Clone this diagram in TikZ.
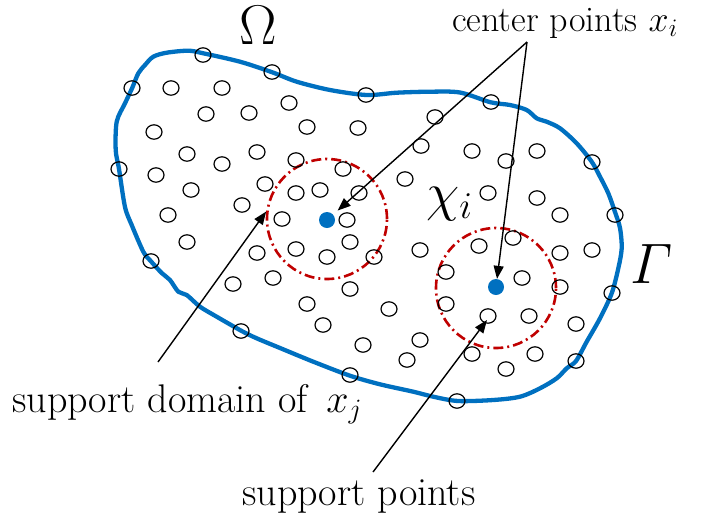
\RequirePackage{fix-cm}
\documentclass[tikz,border=0pt]{standalone}
\usepackage{amsmath}
\usetikzlibrary{arrows.meta}
\definecolor{bblue}{HTML}{0070C0}
\definecolor{dred}{HTML}{C00000}
\begin{document}
\begin{tikzpicture}[x=1pt,y=-1pt,
  bnd/.style={line width=4.3pt, draw=bblue, line join=round},
  ptc/.style={line width=1.2pt, draw=black},
  sdomain/.style={draw=dred, line width=2.6pt, circle, minimum size=120pt, inner sep=0pt,
    dash pattern=on 10pt off 4pt on 2pt off 4pt},
  bdot/.style={circle, fill=bblue, minimum size=16pt, inner sep=0pt},
  arr/.style={line width=1.4pt, -{Triangle[length=13pt,width=10pt]}},
  lbl/.style={font=\fontsize{40}{46}\selectfont, inner sep=0pt}]
\useasboundingbox (0,0) rectangle (703,520);
% boundary
\draw[bnd] plot[smooth cycle, tension=0.5] coordinates {
(116.7,121.7) (125,103.3) (132.3,87.7) (138.3,73.3) (145,65) (153.3,56.7) (166.7,52.7)
(188.3,50.7) (203.3,53.3) (240,61.7) (272.3,72.3) (296.7,81.7) (330,90) (366.7,95)
(396.7,92.7) (430,91.7) (460,92.5) (490.7,102.3) (510,105) (526.7,110) (536.7,118.3)
(546.7,121.7) (560,128.3) (576.7,143.3) (591.7,161.7) (600,176.7) (608.3,193.3) (615,212)
(620,228) (621.7,248.3) (618.3,268.3) (611.7,293.3) (600,318.3) (586.7,341.7) (576,361)
(566.7,368.3) (556.7,378.3) (540,388.3) (520,396.7) (493.3,400) (458,401) (433.3,396.7)
(413.3,391.7) (380,384.3) (350,375.7) (313.3,361.7) (280,348) (256.7,338.3) (241.7,331)
(216.7,316.7) (200,306.7) (186.7,295) (178.3,291.7) (170,280) (161.7,273) (150.7,261)
(143.3,251.7) (131.7,225) (125,207) (119,169) (115.7,150)};
% support domains
\node[sdomain] (d1) at (327,219) {};
\node[sdomain] (d2) at (496,288) {};
% points
\foreach \p in {(203,55),(272,72),(366,95),(491,102),(592,162),(615,215),(612,293),(576,361),
(457,401),(350,375),(241,331),(151,261),(119,169),(132,88),
(171,88),(222,88),(206,114),(249,113),(154,132),(187,154),(257,152),(222,164),(156,175),
(191,190),(265,184),(242,205),(168,215),(282,219),
(289,103),(307,127),(358,128),(435,117),(421,146),(296,160),(343,169),(405,179),(296,193),
(320,190),(359,193),(347,220),
(472,151),(506,161),(537,151),(488,193),(537,198),(560,215),
(187,242),(257,253),(296,249),(327,257),(350,242),(374,257),(420,250),(233,284),(273,278),
(350,289),(307,304),(389,309),(323,325),(446,272),(446,304),(420,340),(363,345),(407,360),
(479,246),(513,238),(560,253),(592,250),(522,278),(560,287),(488,316),(529,316),(576,324),
(472,354),(535,354),(506,369)}
  \draw[ptc] \p ellipse [x radius=8pt, y radius=7.2pt];
% centre points
\node[bdot] (c1) at (327,220) {};
\node[bdot] (c2) at (496,287) {};
% labels
\node[inner sep=0pt, anchor=base, font=\fontsize{56}{62}\selectfont] (omega) at (258,44) {$\Omega$};
\node[inner sep=0pt, anchor=base west, font=\fontsize{57}{63}\selectfont] (gamma) at (630,283) {$\varGamma$};
\node[inner sep=0pt, anchor=base west, font=\fontsize{54}{60}\selectfont] (chi) at (426,210) {$\chi_i$};
\node[lbl, anchor=base west, font=\fontsize{36}{42}\selectfont] (cp) at (452,31) {center points $x_i$};
\node[lbl, anchor=base west] (sd) at (12,412) {support domain of\, $x_j$};
\node[lbl, anchor=base west] (sp) at (242,505) {support points};
% connectors
\coordinate (apex) at (527,42);
\coordinate (sdstart) at (158,362);
\coordinate (spstart) at (373,472);
\coordinate (sptip) at (487,320);
\draw[arr, shorten >=6pt] (apex) -- (c1);
\draw[arr] (apex) -- (c2);
\draw[arr] (sdstart) -- (d1.173);
\draw[arr] (spstart) -- (sptip);
\end{tikzpicture}
\end{document}
